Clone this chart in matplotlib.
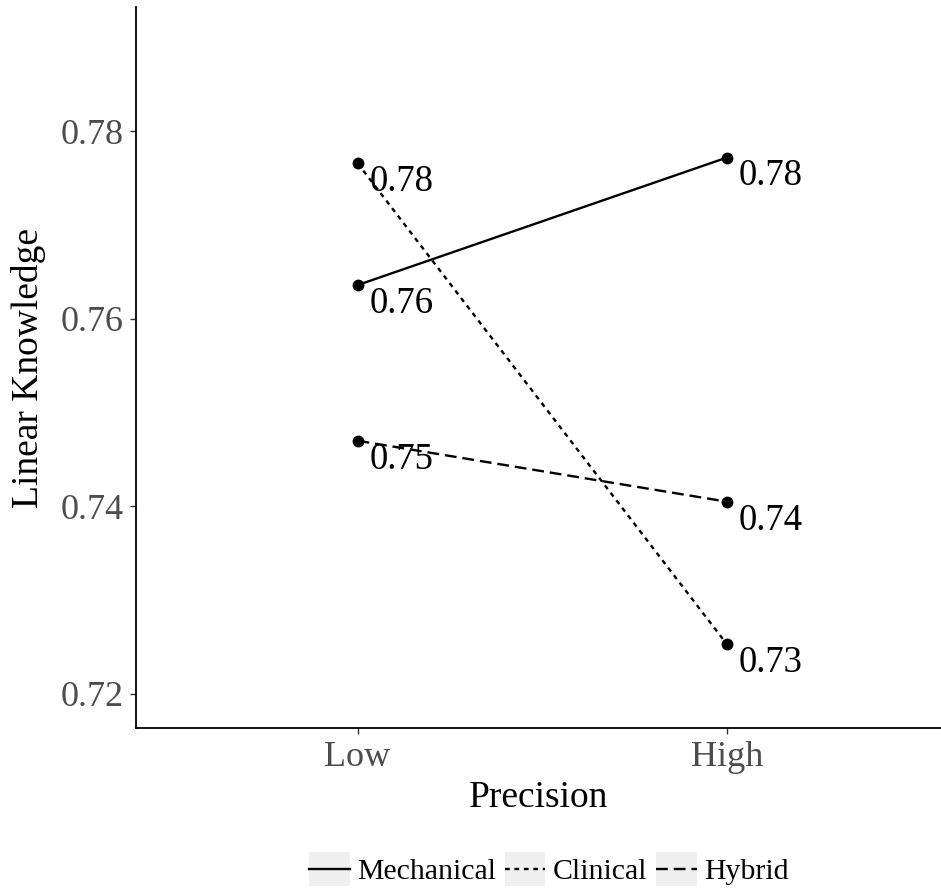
import numpy as np
import matplotlib
matplotlib.use('Agg')
import matplotlib.pyplot as plt
from matplotlib.patches import Rectangle
from matplotlib.lines import Line2D
from matplotlib.legend_handler import HandlerTuple, HandlerLine2D

plt.rc('font', family='Liberation Serif')

RES = 100

# DATA
precision = ['Low', 'High']
mechanical = [0.7636, 0.7772]
clinical = [0.7766, 0.7253]
hybrid = [0.7470, 0.7405]
series_names = ['Mechanical', 'Clinical', 'Hybrid']
y_ticks = [0.72, 0.74, 0.76, 0.78]

series = [mechanical, clinical, hybrid]
dashes = ['-', (0, (2, 2)), (0, (5, 2.5))]


class CenteredLine(HandlerLine2D):
    # put the key line in the middle of the grey key box
    def create_artists(self, legend, orig_handle, xdescent, ydescent,
                       width, height, fontsize, trans):
        arts = super().create_artists(legend, orig_handle, xdescent, ydescent,
                                      width, height, fontsize, trans)
        for a in arts:
            a.set_ydata(np.full(len(a.get_xdata()), height / 2 - ydescent))
        return arts


fig = plt.figure(figsize=[9.41, 8.94], dpi=RES)
ax = fig.add_axes([136/941, 1 - 728/894, 1 - 136/941, (728 - 7)/894])

x = np.arange(1, len(precision) + 1)
for vals, ls in zip(series, dashes):
    ax.plot(x, vals, color='black', linestyle=ls, linewidth=1.7,
            marker='o', markersize=7.5, dash_capstyle='butt')
    for xi, v in zip(x, vals):
        ax.annotate('%.2f' % v, (xi, v), xytext=(8.5, -1),
                    textcoords='offset points', ha='left', va='top',
                    fontsize=26.5, color='black')

ax.set_xlim(0.4, 2.58)
ax.set_ylim(0.71636, 0.79326)
ax.set_xticks(x)
ax.set_xticklabels(precision)
ax.set_yticks(y_ticks)
ax.set_yticklabels(['%.2f' % t for t in y_ticks])

for s in ['top', 'right']:
    ax.spines[s].set_visible(False)
for s in ['left', 'bottom']:
    ax.spines[s].set_linewidth(1.3)
ax.tick_params(axis='both', labelsize=26, labelcolor='#4D4D4D',
               color='#333333', length=4, width=1.0, pad=5)

ax.set_xlabel('Precision', fontsize=27, labelpad=5)
ax.set_ylabel('Linear Knowledge', fontsize=27, labelpad=10)

# legend with grey key background
handles = []
for ls in dashes:
    bg = Rectangle((0, 0), 1, 1, facecolor='#F0F0F0', edgecolor='none')
    ln = Line2D([], [], color='black', linestyle=ls, linewidth=1.7)
    handles.append((bg, ln))
fig.legend(handles, series_names, loc='center', bbox_to_anchor=(549/941, 1 - 869/894),
           ncol=3, frameon=False, fontsize=21.5,
           handler_map={tuple: HandlerTuple(ndivide=1, pad=0), Line2D: CenteredLine()},
           handlelength=1.35, handleheight=1.35, handletextpad=0.25,
           columnspacing=0.3, borderpad=0)

fig.savefig('out.png', dpi=RES)
